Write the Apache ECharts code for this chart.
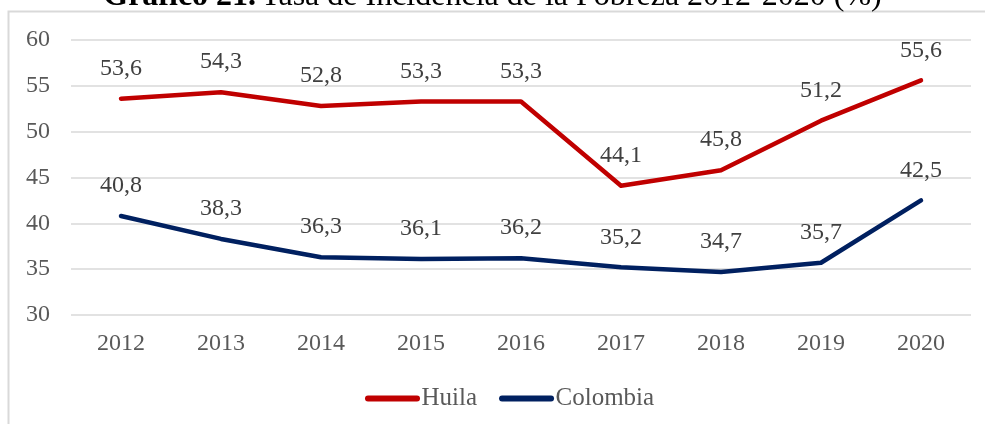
<!DOCTYPE html>
<html>
<head>
<meta charset="utf-8">
<script src="https://cdn.jsdelivr.net/npm/echarts@6/dist/echarts.min.js"></script>
<style>
  html, body { margin: 0; padding: 0; background: #fff; }
  #chart { width: 985px; height: 424px; }
</style>
</head>
<body>
<div id="chart"></div>
<script>
var years = ['2012', '2013', '2014', '2015', '2016', '2017', '2018', '2019', '2020'];
var huila = [53.6, 54.3, 52.8, 53.3, 53.3, 44.1, 45.8, 51.2, 55.6];
var colombia = [40.8, 38.3, 36.3, 36.1, 36.2, 35.2, 34.7, 35.7, 42.5];

var font = 'Liberation Serif, Times New Roman, serif';

function comma(p) {
  return p.value.toFixed(1).replace('.', ',');
}

var chartDom = document.getElementById('chart');
var myChart = echarts.init(chartDom);

var legendIcon = 'path://M3,0 L52,0 A3,3 0 0 1 52,6 L3,6 A3,3 0 0 1 3,0 Z';

var option = {
  animation: false,
  backgroundColor: '#fff',
  title: {
    text: '{b|Gráfico 21.} {n|Tasa de Incidencia de la Pobreza 2012-2020 (%)}',
    left: 'center',
    top: -24,
    textStyle: {
      rich: {
        b: { fontFamily: font, fontSize: 32, fontWeight: 'bold', color: '#000' },
        n: { fontFamily: font, fontSize: 32, fontWeight: 'normal', color: '#000' }
      }
    }
  },
  graphic: [
    {
      type: 'rect',
      z: -1,
      shape: { x: 8.5, y: 11.5, width: 1000, height: 500 },
      style: { fill: 'none', stroke: '#D9D9D9', lineWidth: 2 }
    }
  ],
  legend: {
    top: 381,
    left: 360,
    itemWidth: 58,
    itemHeight: 6,
    itemGap: 22,
    icon: legendIcon,
    textStyle: { fontFamily: font, fontSize: 25, color: '#595959', padding: [0, 0, 0, -5] },
    data: ['Huila', 'Colombia']
  },
  grid: { left: 71, right: 14, top: 40, height: 275 },
  xAxis: {
    type: 'category',
    data: years,
    axisLine: { show: false },
    axisTick: { show: false },
    axisLabel: { fontFamily: font, fontSize: 24, color: '#595959', margin: 17 }
  },
  yAxis: {
    type: 'value',
    min: 30,
    max: 60,
    interval: 5,
    axisLine: { show: false },
    axisTick: { show: false },
    axisLabel: { fontFamily: font, fontSize: 24, color: '#595959', margin: 21 },
    splitLine: { lineStyle: { color: '#D9D9D9', width: 1.5 } }
  },
  series: [
    {
      name: 'Huila',
      type: 'line',
      data: huila,
      symbol: 'circle',
      symbolSize: 0.1,
      showSymbol: true,
      color: '#C00000',
      lineStyle: { width: 4.5, color: '#C00000', cap: 'round', join: 'round' },
      label: {
        show: true, position: 'top', distance: 18,
        fontFamily: font, fontSize: 24, color: '#404040',
        formatter: comma
      }
    },
    {
      name: 'Colombia',
      type: 'line',
      data: colombia,
      symbol: 'circle',
      symbolSize: 0.1,
      showSymbol: true,
      color: '#002060',
      lineStyle: { width: 4.5, color: '#002060', cap: 'round', join: 'round' },
      label: {
        show: true, position: 'top', distance: 18,
        fontFamily: font, fontSize: 24, color: '#404040',
        formatter: comma
      }
    }
  ]
};

option && myChart.setOption(option);
</script>
</body>
</html>
